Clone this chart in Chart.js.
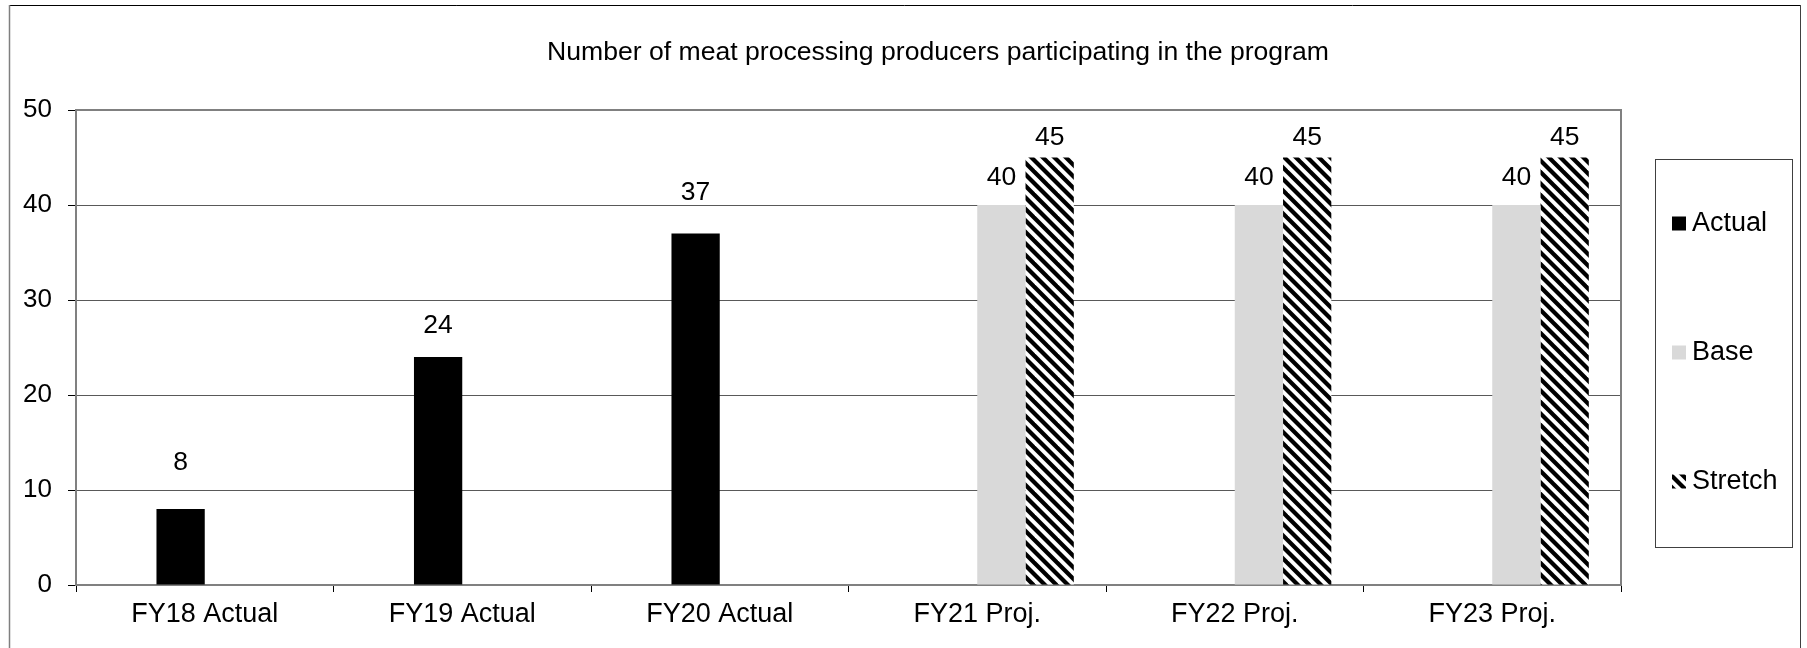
<!DOCTYPE html>
<html>
<head>
<meta charset="utf-8">
<script src="https://cdn.jsdelivr.net/npm/chart.js@4"></script>
<style>
html,body{margin:0;padding:0;background:#fff;}
#wrap{width:1807px;height:648px;position:relative;overflow:hidden;}
canvas{display:block;}
</style>
</head>
<body>
<div id="wrap"><canvas id="c" width="1807" height="648"></canvas></div>
<script>
// ---- data ----
const chartTitle = 'Number of meat processing producers participating in the program';
const categories = ['FY18 Actual', 'FY19 Actual', 'FY20 Actual', 'FY21 Proj.', 'FY22 Proj.', 'FY23 Proj.'];
const seriesNames = ['Actual', 'Base', 'Stretch'];
const actualValues = [8, 24, 37, null, null, null];
const baseValues = [null, null, null, 40, 40, 40];
const stretchValues = [null, null, null, 45, 45, 45];
const emptySlotValues = [null, null, null, null, null, null];
const yTicks = [0, 10, 20, 30, 40, 50];

// ---- styles ----
const FONT = "'Liberation Sans', Arial, sans-serif";
Chart.defaults.font.family = FONT;
Chart.defaults.color = '#000';

function makeStripes() {
  const period = 11.5, size = 23;
  const c = document.createElement('canvas');
  c.width = size; c.height = size;
  const x = c.getContext('2d');
  x.fillStyle = '#fff';
  x.fillRect(0, 0, size, size);
  x.strokeStyle = '#000';
  x.lineWidth = 4.2;
  for (let k = -2; k <= 2; k++) {
    x.beginPath();
    x.moveTo(k * period - 3, -3);
    x.lineTo(k * period + size + 3, size + 3);
    x.stroke();
  }
  return document.getElementById('c').getContext('2d').createPattern(c, 'repeat');
}
const stripePattern = makeStripes();

const seriesColors = {Actual: '#000000', Base: '#d9d9d9', Stretch: stripePattern};
// vertical gap (px) between bar top and the centre of its value label, per point (manual label placement)
const labelGaps = {Actual: [46, 31, 41, 0, 0, 0], Base: [0, 0, 0, 27, 27, 27], Stretch: [0, 0, 0, 20, 20, 20]};

const datasets = [
  {label: '', data: emptySlotValues, backgroundColor: 'rgba(0,0,0,0)'},
  {label: seriesNames[0], data: actualValues, backgroundColor: seriesColors.Actual},
  {label: seriesNames[1], data: baseValues, backgroundColor: seriesColors.Base},
  {label: seriesNames[2], data: stretchValues, backgroundColor: seriesColors.Stretch}
].map(d => Object.assign(d, {borderWidth: 0, barPercentage: 1.0, categoryPercentage: 0.75}));

// ---- plugins ----
const framePlugin = {
  id: 'frame',
  afterDraw(chart) {
    const {ctx, chartArea: a} = chart;
    ctx.save();
    ctx.lineWidth = 1;
    ctx.strokeStyle = '#000';
    ctx.beginPath(); ctx.moveTo(9, 5.5); ctx.lineTo(1800.5, 5.5); ctx.stroke();
    ctx.strokeStyle = '#7f7f7f';
    ctx.lineWidth = 1.5;
    ctx.beginPath(); ctx.moveTo(9.5, 5); ctx.lineTo(9.5, 660); ctx.stroke();
    ctx.strokeStyle = '#404040';
    ctx.lineWidth = 1;
    ctx.beginPath(); ctx.moveTo(1800.5, 5); ctx.lineTo(1800.5, 660); ctx.stroke();
    ctx.strokeStyle = '#808080';
    ctx.lineWidth = 2;
    ctx.beginPath();
    ctx.moveTo(a.left, a.top);
    ctx.lineTo(a.right, a.top);
    ctx.lineTo(a.right, a.bottom);
    ctx.stroke();
    ctx.restore();
  }
};

const titlePlugin = {
  id: 'plainTitle',
  afterDraw(chart) {
    const ctx = chart.ctx;
    ctx.save();
    ctx.font = '26.6px ' + FONT;
    ctx.fillStyle = '#000';
    ctx.textAlign = 'left';
    ctx.textBaseline = 'middle';
    ctx.fillText(chartTitle, 547, 53);
    ctx.restore();
  }
};

const valueLabelPlugin = {
  id: 'valueLabels',
  afterDatasetsDraw(chart) {
    const ctx = chart.ctx;
    ctx.save();
    ctx.font = '26.5px ' + FONT;
    ctx.fillStyle = '#000';
    ctx.textAlign = 'center';
    ctx.textBaseline = 'middle';
    chart.data.datasets.forEach((ds, i) => {
      if (!seriesNames.includes(ds.label)) return;
      const meta = chart.getDatasetMeta(i);
      meta.data.forEach((el, j) => {
        const v = ds.data[j];
        if (v === null || v === undefined) return;
        ctx.fillText(String(v), el.x, el.y - labelGaps[ds.label][j]);
      });
    });
    ctx.restore();
  }
};

const legendPlugin = {
  id: 'boxLegend',
  afterDraw(chart) {
    const ctx = chart.ctx;
    const box = {x: 1655.5, y: 159.5, w: 137, h: 388};
    ctx.save();
    ctx.strokeStyle = '#404040';
    ctx.lineWidth = 1;
    ctx.strokeRect(box.x, box.y, box.w, box.h);
    ctx.font = '27px ' + FONT;
    ctx.textAlign = 'left';
    ctx.textBaseline = 'middle';
    const items = chart.data.datasets.filter(d => seriesNames.includes(d.label));
    items.forEach((d, i) => {
      const cy = box.y + 64 + i * 129;
      ctx.fillStyle = d.backgroundColor;
      ctx.fillRect(1672, cy - 7, 14, 14);
      ctx.fillStyle = '#000';
      ctx.fillText(d.label, 1692, cy);
    });
    ctx.restore();
  }
};

new Chart(document.getElementById('c'), {
  type: 'bar',
  data: {labels: categories, datasets: datasets},
  options: {
    responsive: false,
    animation: false,
    devicePixelRatio: 1,
    layout: {padding: {left: 0, right: 186, top: 110, bottom: 0}},
    plugins: {
      legend: {display: false},
      title: {display: false},
      tooltip: {enabled: false}
    },
    scales: {
      x: {
        type: 'category',
        offset: true,
        grid: {display: true, drawOnChartArea: false, drawTicks: true, tickLength: 7, tickColor: '#000', offset: true},
        border: {display: true, color: '#808080', width: 2},
        ticks: {font: {size: 27}, color: '#000', padding: 6, maxRotation: 0, autoSkip: false},
        afterFit(s) { s.height = 63; }
      },
      y: {
        min: yTicks[0],
        max: yTicks[yTicks.length - 1],
        afterBuildTicks(s) { s.ticks = yTicks.map(v => ({value: v})); },
        grid: {color: '#595959', lineWidth: 1, drawTicks: true, tickLength: 8, tickColor: '#000'},
        border: {display: true, color: '#808080', width: 2},
        ticks: {font: {size: 26}, color: '#000', padding: 16},
        afterFit(s) { s.width = 76; }
      }
    }
  },
  plugins: [valueLabelPlugin, framePlugin, titlePlugin, legendPlugin]
});
</script>
</body>
</html>
